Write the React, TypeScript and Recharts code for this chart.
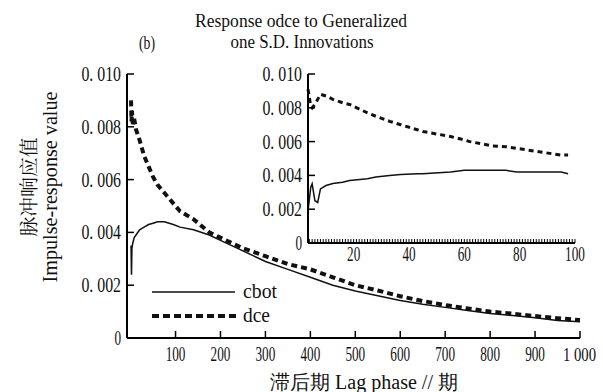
import { LineChart, Line, XAxis, YAxis } from 'recharts';

// main panel: lag 1..1000
const mainLags = [1, 2, 3, 5, 8, 12, 20, 30, 40, 50, 60, 75, 95, 110, 140, 175, 200, 250, 300, 350, 400, 450, 500, 550, 600, 650, 700, 750, 800, 850, 900, 950, 1000];
const mainCbot = [0.0035, 0.0024, 0.0034, 0.0036, 0.0038, 0.0039, 0.0041, 0.0042, 0.0043, 0.00435, 0.0044, 0.0044, 0.0043, 0.0042, 0.0041, 0.0039, 0.0037, 0.0033, 0.0029, 0.0026, 0.0023, 0.002, 0.00178, 0.0016, 0.00142, 0.00128, 0.00116, 0.00104, 0.00093, 0.00085, 0.00077, 0.00066, 0.00062];
const mainDce = [0.009, 0.0082, 0.0086, 0.0081, 0.0083, 0.0079, 0.0075, 0.0069, 0.0065, 0.0061, 0.0058, 0.0055, 0.0051, 0.0048, 0.0045, 0.004, 0.0038, 0.0034, 0.0031, 0.0028, 0.0026, 0.0023, 0.002, 0.0018, 0.00158, 0.0014, 0.00125, 0.00112, 0.001, 0.00092, 0.00083, 0.00075, 0.00068];
const mainXTicks = [100, 200, 300, 400, 500, 600, 700, 800, 900, 1000];
const yTicks = [0, 0.002, 0.004, 0.006, 0.008, 0.01];

// inset: first 100 periods
const insetLags = [3.5, 4.5, 5, 6, 7, 8, 10, 12.5, 16, 18.5, 25, 28, 33, 37, 43, 45, 55, 60, 62, 70, 75, 79, 87, 95, 97.5];
const insetCbot = [0.0019, 0.0033, 0.0035, 0.0025, 0.0024, 0.0032, 0.0034, 0.00352, 0.0036, 0.0037, 0.0038, 0.0039, 0.004, 0.00405, 0.0041, 0.0041, 0.0042, 0.0043, 0.0043, 0.0043, 0.0043, 0.0042, 0.0042, 0.0042, 0.0041];
const insetDce = [0.0091, 0.0081, 0.008, 0.0082, 0.0085, 0.0088, 0.0087, 0.0085, 0.0083, 0.0082, 0.0077, 0.0075, 0.0072, 0.007, 0.0067, 0.0066, 0.0063, 0.0061, 0.006, 0.00575, 0.0057, 0.0056, 0.0054, 0.0052, 0.0052];
const insetXLabels = [20, 40, 60, 80, 100];

const mainData = mainLags.map((lag, i) => ({ lag, cbot: mainCbot[i], dce: mainDce[i] }));
const insetData = insetLags.map((lag, i) => ({ lag, cbot: insetCbot[i], dce: insetDce[i] }));

// every period gets a small tick on the inset x axis
const insetMinorTicks: number[] = [];
for (let t = 4; t <= 100; t++) insetMinorTicks.push(t);

const serif = { fontFamily: "'Liberation Serif', Tinos, 'Times New Roman', 'Noto Serif', 'Nimbus Roman', FreeSerif, 'DejaVu Serif', serif" };
const cjk = { fontFamily: "'Noto Serif CJK SC', 'Noto Sans CJK SC', sans-serif" };
const axisStyle = { stroke: '#000', strokeWidth: 2 };

const fmtY = (v: number) => (v === 0 ? '0' : '0. ' + v.toFixed(3).slice(2));
const fmtX = (v: number) => (v === 1000 ? '1 000' : String(v));

// narrow, tall digits like the original print
const tickText = (x: number, y: number, s: string, anchor: string, size = 20) => (
  <text x={x} y={y} textAnchor={anchor} style={serif} fontSize={size} fill="#111"
    textLength={s.length * 6.6} lengthAdjust="spacingAndGlyphs">{s}</text>
);

const MainXTick = ({ x, y, payload }: any) => (
  <g>
    <line x1={x} x2={x} y1={y} y2={y - 7} stroke="#000" strokeWidth={1.5} />
    {payload.value === 1000
      ? tickText(x + 16, y + 23, fmtX(payload.value), 'end', 19)
      : tickText(x, y + 23, fmtX(payload.value), 'middle')}
  </g>
);

const YTick = ({ x, y, payload }: any) => (
  <g>
    {payload.value !== 0 && <line x1={x} x2={x + 7} y1={y} y2={y} stroke="#000" strokeWidth={1.5} />}
    {tickText(x - 6, y + 7, fmtY(payload.value), 'end')}
  </g>
);

const InsetXTick = ({ x, y, payload }: any) => (
  <g>
    <line x1={x} x2={x} y1={y} y2={y - 4} stroke="#000" strokeWidth={1} />
    {insetXLabels.includes(payload.value) && tickText(x, y + 18, String(payload.value), 'middle')}
  </g>
);

export default function App() {
  return (
    <div style={{ position: 'absolute', left: 0, top: 0, width: 603, height: 392, background: '#fff' }}>
      <div style={{ position: 'absolute', left: 0, top: 0 }}>
        <LineChart width={603} height={392} data={mainData} margin={{ top: 74, right: 23, bottom: 0, left: 67 }}>
          <XAxis dataKey="lag" type="number" domain={[-8, 1000]} ticks={mainXTicks} interval={0} height={54}
            axisLine={axisStyle} tickLine={false} tickSize={0} tickMargin={0} tick={<MainXTick />} />
          <YAxis type="number" domain={[0, 0.01]} ticks={yTicks} width={60}
            axisLine={axisStyle} tickLine={false} tickSize={0} tickMargin={0} tick={<YTick />} />
          <Line dataKey="cbot" type="linear" stroke="#111" strokeWidth={1.5} dot={false} isAnimationActive={false} />
          <Line dataKey="dce" type="linear" stroke="#111" strokeWidth={4} strokeDasharray="6 4" dot={false} isAnimationActive={false} />
        </LineChart>
      </div>

      {/* inset panel */}
      <div style={{ position: 'absolute', left: 240, top: 60 }}>
        <LineChart width={360} height={210} data={insetData} margin={{ top: 14, right: 25, bottom: 0, left: 8 }}>
          <XAxis dataKey="lag" type="number" domain={[3.5, 100]} ticks={insetMinorTicks} interval={0} height={27}
            axisLine={axisStyle} tickLine={false} tickSize={0} tickMargin={0} tick={<InsetXTick />} />
          <YAxis type="number" domain={[0, 0.01]} ticks={yTicks} width={60}
            axisLine={axisStyle} tickLine={false} tickSize={0} tickMargin={0} tick={<YTick />} />
          <Line dataKey="cbot" type="linear" stroke="#111" strokeWidth={1.5} dot={false} isAnimationActive={false} />
          <Line dataKey="dce" type="linear" stroke="#111" strokeWidth={3} strokeDasharray="5 4" dot={false} isAnimationActive={false} />
        </LineChart>
      </div>

      <svg width={603} height={392} style={{ position: 'absolute', left: 0, top: 0, pointerEvents: 'none' }}>
        <text x={301} y={27} textAnchor="middle" style={serif} fontSize={19} textLength={212} lengthAdjust="spacingAndGlyphs" fill="#111">Response odce to Generalized</text>
        <text x={302} y={48} textAnchor="middle" style={serif} fontSize={19} textLength={143} lengthAdjust="spacingAndGlyphs" fill="#111">one S.D. Innovations</text>
        <text x={147} y={49} textAnchor="middle" style={serif} fontSize={19} textLength={16} lengthAdjust="spacingAndGlyphs" fill="#111">(b)</text>

        <text transform="translate(36,187) rotate(-90)" textAnchor="middle" style={cjk} fontSize={19} textLength={99} lengthAdjust="spacingAndGlyphs" fill="#111">脉冲响应值</text>
        <text transform="translate(57,187) rotate(-90)" textAnchor="middle" style={serif} fontSize={21} textLength={191} lengthAdjust="spacingAndGlyphs" fill="#111">Impulse-response value</text>

        <text x={364} y={389} textAnchor="middle" style={serif} fontSize={20} textLength={188} lengthAdjust="spacingAndGlyphs" fill="#111">滞后期 Lag phase // 期</text>

        {/* legend */}
        <line x1={152} x2={235} y1={292} y2={292} stroke="#111" strokeWidth={1.5} />
        <text x={243} y={298} style={serif} fontSize={20} textLength={34} lengthAdjust="spacingAndGlyphs" fill="#111">cbot</text>
        <line x1={152} x2={236} y1={316} y2={316} stroke="#111" strokeWidth={4} strokeDasharray="7 4" />
        <text x={243} y={322} style={serif} fontSize={20} textLength={27} lengthAdjust="spacingAndGlyphs" fill="#111">dce</text>
      </svg>
    </div>
  );
}
